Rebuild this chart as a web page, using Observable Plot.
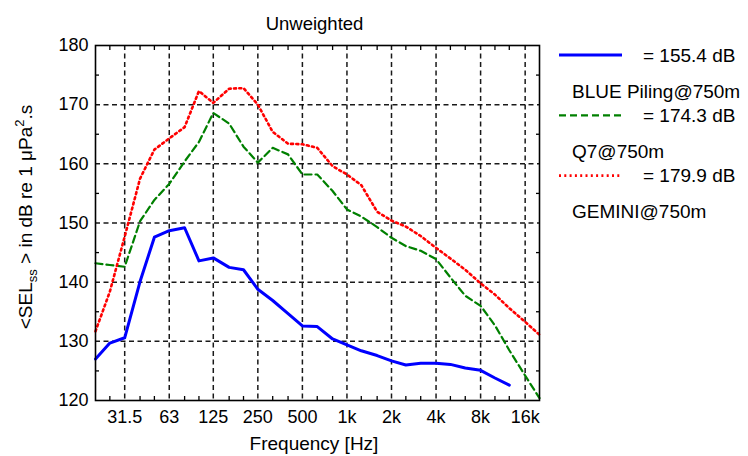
<!DOCTYPE html>
<html><head><meta charset="utf-8">
<script src="https://cdn.jsdelivr.net/npm/d3@7"></script>
<script src="https://cdn.jsdelivr.net/npm/@observablehq/plot@0.6"></script>
<style>
body{margin:0;background:#fff;}
#chart{position:relative;width:748px;height:456px;}
svg text{white-space:pre;}
</style></head><body><div id="chart"></div>
<script>
const freqs = [20, 25, 31.5, 40, 50, 63, 80, 100, 125, 160, 200, 250, 315, 400, 500, 630, 800, 1000, 1250, 1600, 2000, 2500, 3150, 4000, 5000, 6300, 8000, 10000, 12500, 16000, 20000];
const bluePiling = [127.0, 129.7, 130.6, 140.1, 147.6, 148.7, 149.2, 143.6, 144.1, 142.5, 142.1, 138.8, 136.9, 134.7, 132.6, 132.5, 130.4, 129.4, 128.4, 127.6, 126.7, 126.0, 126.3, 126.3, 126.1, 125.5, 125.1, 123.8, 122.6];
const q7 = [143.2, 142.9, 142.6, 150.3, 153.9, 156.6, 160.4, 163.7, 168.6, 166.8, 162.9, 160.2, 162.7, 161.6, 158.2, 158.2, 155.4, 152.3, 151.1, 149.3, 147.5, 146.1, 145.3, 143.9, 140.8, 137.7, 136.0, 132.7, 128.5, 124.2, 120.4];
const gemini = [131.7, 138.4, 147.7, 157.5, 162.4, 164.3, 166.2, 172.3, 170.3, 172.7, 172.8, 170.0, 165.4, 163.4, 163.3, 162.7, 159.6, 158.2, 156.4, 151.9, 150.4, 149.4, 147.8, 145.8, 144.0, 142.1, 139.8, 137.9, 135.6, 133.3, 131.1];

const seriesNames = ["BLUE Piling@750m", "Q7@750m", "GEMINI@750m"];
const seriesTotals = ["= 155.4 dB", "= 174.3 dB", "= 179.9 dB"];
const seriesValues = [bluePiling, q7, gemini];
const seriesColors = ["#0000ff", "#008000", "#ff0000"];
const seriesDash = [null, "7,4", "2,3.3"];
const seriesWidth = [3, 2.2, 2.6];

const xTicks = [31.5, 63, 125, 250, 500, 1000, 2000, 4000, 8000, 16000];
const xTickLabels = ["31.5", "63", "125", "250", "500", "1k", "2k", "4k", "8k", "16k"];
const xMinor = [25, 40, 50, 80, 100, 160, 200, 315, 400, 630, 800, 1250, 1600, 2500, 3150, 5000, 6300, 10000, 12500];
const yTicks = [120, 130, 140, 150, 160, 170, 180];
const yGrid = [130, 140, 150, 160, 170];
const yMinor = [125, 135, 145, 155, 165, 175];

const FONT = '"Liberation Sans", Arial, sans-serif';
const gridOpts = {stroke: "#000", strokeOpacity: 0.9, strokeWidth: 1.5, strokeDasharray: "5,3.5"};

const lineMarks = seriesNames.map((name, si) => {
  const rows = seriesValues[si].map((v, i) => ({f: freqs[i], v}));
  return Plot.line(rows, {x: "f", y: "v", stroke: seriesColors[si], strokeWidth: seriesWidth[si],
    strokeDasharray: seriesDash[si], strokeLinejoin: "round"});
});

const chart = Plot.plot({
  width: 748, height: 456,
  marginLeft: 95, marginRight: 209, marginTop: 45, marginBottom: 56,
  style: {fontFamily: FONT, fontSize: "18px", color: "#000", background: "#fff"},
  x: {type: "log", domain: [20, 20000]},
  y: {domain: [120, 180]},
  marks: [
    Plot.gridX(xTicks, gridOpts),
    Plot.gridY(yGrid, gridOpts),
    Plot.axisX(xMinor, {anchor: "bottom", tickSize: 4, dy: -4, fill: "none", label: null, strokeWidth: 1.3}),
    Plot.axisX(xMinor, {anchor: "top", tickSize: 4, dy: 4, fill: "none", label: null, strokeWidth: 1.3}),
    Plot.axisY(yMinor, {anchor: "left", tickSize: 4, dx: 4, fill: "none", label: null, strokeWidth: 1.3}),
    Plot.axisY(yMinor, {anchor: "right", tickSize: 4, dx: -4, fill: "none", label: null, strokeWidth: 1.3}),
    Plot.text(xTicks, {x: d => d, text: (d, i) => xTickLabels[i], frameAnchor: "bottom",
      lineAnchor: "top", dy: 10, fontSize: 18, fill: "#000"}),
    Plot.axisY(yTicks, {anchor: "left", tickSize: 0, tickPadding: 7, label: null}),
    ...lineMarks,
    Plot.frame({stroke: "#000", strokeWidth: 1.6})
  ]
});

document.getElementById("chart").appendChild(chart);
const svg = d3.select(chart);

svg.append("text").attr("x", 314.5).attr("y", 30).attr("text-anchor", "middle")
  .attr("font-size", 18.5).attr("font-family", FONT).attr("fill", "#000").text("Unweighted");

svg.append("text").attr("x", 314).attr("y", 450).attr("text-anchor", "middle")
  .attr("font-size", 19).attr("font-family", FONT).attr("fill", "#000").text("Frequency [Hz]");

const yl = svg.append("text").attr("transform", "translate(32,217) rotate(-90)")
  .attr("text-anchor", "middle").attr("font-size", 19).attr("font-family", FONT).attr("fill", "#000");
yl.append("tspan").text("<SEL");
yl.append("tspan").attr("font-size", 13).attr("dy", 5).text("ss");
yl.append("tspan").attr("dy", -5).text(" > in dB re 1 \u03bcPa");
yl.append("tspan").attr("font-size", 13).attr("dy", -8).text("2");
yl.append("tspan").attr("dy", 8).text(".s");

const leg = svg.append("g").attr("font-family", FONT).attr("font-size", 19).attr("fill", "#000")
  .attr("text-anchor", "start");
seriesNames.forEach((name, i) => {
  const y0 = 55 + i * 60.3;
  leg.append("line").attr("x1", 559).attr("x2", 622).attr("y1", y0).attr("y2", y0)
    .attr("stroke", seriesColors[i]).attr("stroke-width", seriesWidth[i])
    .attr("stroke-dasharray", seriesDash[i]);
  leg.append("text").attr("x", 643).attr("y", y0 + 6.7).text(seriesTotals[i]);
  leg.append("text").attr("x", 572).attr("y", y0 + 42.7).text(name);
});
</script></body></html>
